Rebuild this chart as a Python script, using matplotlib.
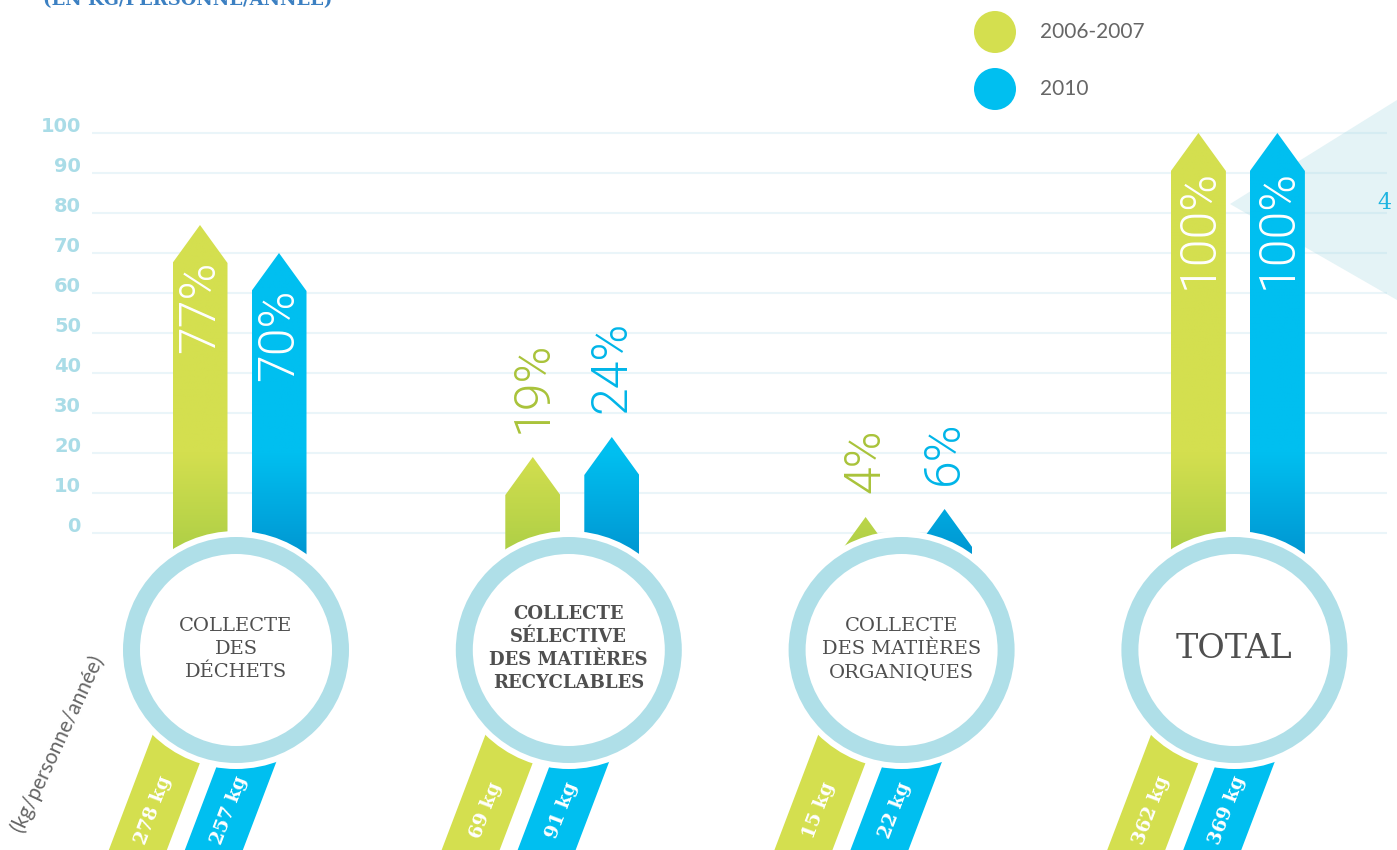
import numpy as np
import matplotlib
matplotlib.use("Agg")
import matplotlib.pyplot as plt
from matplotlib.patches import Polygon, Circle
from matplotlib.colors import to_rgb

# données
categories = ["COLLECTE\nDES\nDÉCHETS",
              "COLLECTE\nSÉLECTIVE\nDES MATIÈRES\nRECYCLABLES",
              "COLLECTE\nDES MATIÈRES\nORGANIQUES",
              "TOTAL"]
series = ["2006-2007", "2010"]
pct_2006 = [77, 19, 4, 100]
pct_2010 = [70, 24, 6, 100]
kg_2006 = [278, 69, 15, 362]
kg_2010 = [257, 91, 22, 369]
y_ticks = list(range(0, 101, 10))

# couleurs
GREEN, BLUE = "#d4df4f", "#00bff0"
GREEN_DARK, BLUE_DARK = "#a9cd45", "#0093cf"
GREEN_TXT, BLUE_TXT = "#a9c33a", "#00b5e8"
RING = "#afdfe8"
GRID = "#eaf5f9"
TICK = "#a9dce7"
DARK = "#4f4f4f"

# mise en page : 1 unité = 4 px, valeur 0 sur la ligne 533 px
PX = 4.0
W, H = 1397, 850
ZERO = 533

fig = plt.figure(figsize=(W / 100, H / 100), dpi=100)
ax = fig.add_axes([0, 0, 1, 1])
ax.axis("off")

centers = [59.0 + i * 83.2 for i in range(len(categories))]
offsets = [-9.0, 10.75]
bar_w = 13.75
head = 9.5
bar_bottom = -12
circ_y = -29.25
r_halo, r_out, r_in = 29.75, 28.25, 24.0
slope = 0.38          # inclinaison des rubans
rib_ref_y = -58.75
rib_offsets = [-16.75, 2.25]
rib_hw = 7.25
title_weights = ["normal", "bold", "normal", "normal"]
title_sizes = [14, 13, 14, 24]

vals = [pct_2006, pct_2010]
kgs = [kg_2006, kg_2010]
cols = [GREEN, BLUE]
cols_dark = [GREEN_DARK, BLUE_DARK]
cols_txt = [GREEN_TXT, BLUE_TXT]


def gradient_poly(pts, c_top, c_bot, y_hi=20, y_lo=-8, z=2):
    poly = Polygon(pts, closed=True, facecolor="none", edgecolor="none", zorder=z)
    ax.add_patch(poly)
    xs = [p[0] for p in pts]
    ys = [p[1] for p in pts]
    y0, y1 = min(ys), max(ys)
    yy = np.linspace(y1, y0, 300)
    t = np.clip((y_hi - yy) / (y_hi - y_lo), 0, 1)[:, None]
    img = (1 - t) * np.array(to_rgb(c_top)) + t * np.array(to_rgb(c_bot))
    im = ax.imshow(img[:, None, :], extent=[min(xs), max(xs), y0, y1],
                   aspect="auto", origin="upper", zorder=z, interpolation="bilinear")
    im.set_clip_path(poly)


# grille + graduations
ax.hlines(y_ticks, 92 / PX, 1387 / PX, color=GRID, lw=1.5, zorder=1)
for t in y_ticks:
    ax.text(81 / PX, t + 1.5, str(t), ha="right", va="center", color=TICK,
            fontsize=14, family="DejaVu Sans", weight="bold")

# triangle pâle à droite
tri = Polygon([(1230 / PX, (ZERO - 204) / PX), (W / PX, (ZERO - 100) / PX),
               (W / PX, (ZERO - 300) / PX)], closed=True,
              facecolor="#a6d8e2", edgecolor="none", alpha=0.3, zorder=1.5)
ax.add_patch(tri)
ax.text(1377 / PX, (ZERO - 203) / PX, "4", ha="left", va="center",
        color="#1eb4e0", fontsize=16, family="DejaVu Serif")

for i, cx in enumerate(centers):
    for j in range(2):
        v = vals[j][i]
        bx = cx + offsets[j]
        x0, x1 = bx - bar_w / 2, bx + bar_w / 2
        s = v - head
        pts = [(x0, bar_bottom), (x0, s), (bx, v), (x1, s), (x1, bar_bottom)]
        gradient_poly(pts, cols[j], cols_dark[j])
        if v >= 50:
            ax.text(bx, s + 0.5, f"{v}%", rotation=90, ha="center", va="top",
                    color="white", fontsize=36, family="Roboto", weight=300, zorder=3)
        else:
            ax.text(bx, v + 6, f"{v}%", rotation=90, ha="center", va="bottom",
                    color=cols_txt[j], fontsize=36, family="Roboto", weight=300, zorder=3)

        # ruban en bas
        rc = cx + rib_offsets[j]

        def xc(y):
            return rc + slope * (y - rib_ref_y)
        top, bot = -40, -90
        rib = Polygon([(xc(top) - rib_hw, top), (xc(top) + rib_hw, top),
                       (xc(bot) + rib_hw, bot), (xc(bot) - rib_hw, bot)],
                      closed=True, facecolor=cols[j], edgecolor="none", zorder=2)
        ax.add_patch(rib)
        ly = -69.25
        ax.text(xc(ly), ly, f"{kgs[j][i]} kg", rotation=np.degrees(np.arctan2(1, slope)),
                rotation_mode="anchor", ha="center", va="center", color="white",
                fontsize=13.5, family="DejaVu Serif", weight="bold", zorder=3)

    # cercle
    ax.add_patch(Circle((cx, circ_y), r_halo, facecolor="white", edgecolor="none", zorder=4))
    ax.add_patch(Circle((cx, circ_y), r_out, facecolor=RING, edgecolor="none", zorder=5))
    ax.add_patch(Circle((cx, circ_y), r_in, facecolor="white", edgecolor="none", zorder=6))
    ax.text(cx, circ_y + 0.3, categories[i], ha="center", va="center", multialignment="center",
            color=DARK, fontsize=title_sizes[i], family="DejaVu Serif",
            weight=title_weights[i], linespacing=1.35, zorder=7)

# légende
for j, name in enumerate(series):
    ly = (ZERO - [32, 89][j]) / PX
    ax.add_patch(Circle((995 / PX, ly), 21 / PX, facecolor=cols[j], edgecolor="none"))
    ax.text(1040 / PX, ly, name, ha="left", va="center", color="#666666",
            fontsize=15, family="Lato")

# titres coupés / axe
ax.text(43 / PX, (ZERO - 5) / PX, "(EN KG/PERSONNE/ANNÉE)", ha="left", va="baseline",
        color="#3c80c2", fontsize=13, family="DejaVu Serif", weight="bold")
ax.text(57 / PX, (ZERO - 743) / PX, "(kg/personne/année)", rotation=65,
        rotation_mode="anchor", ha="center", va="center", color="#666666",
        fontsize=15, family="Lato")

ax.set_xlim(0, W / PX)
ax.set_ylim(-(H - ZERO) / PX, ZERO / PX)

plt.savefig("out.png", dpi=100)
